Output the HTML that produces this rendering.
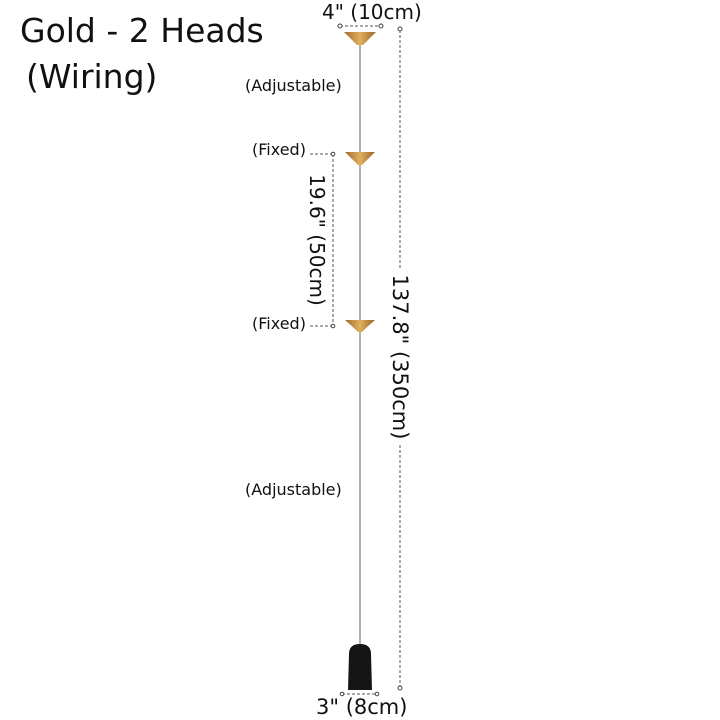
<!DOCTYPE html>
<html><head><style>
body{margin:0;width:720px;height:720px;background:#fff;overflow:hidden;position:relative;font-family:"DejaVu Sans","Liberation Sans",sans-serif;color:#111}
.t{position:absolute;white-space:nowrap}
</style></head><body>
<div class="t" style="left:20px;top:11px;font-size:33px">Gold - 2 Heads</div>
<div class="t" style="left:26px;top:57px;font-size:33px">(Wiring)</div>
<div class="t" style="left:322px;top:0px;font-size:20px">4" (10cm)</div>
<div class="t" style="left:245px;top:76px;font-size:16px">(Adjustable)</div>
<div class="t" style="left:252px;top:140px;font-size:16px">(Fixed)</div>
<div class="t" style="left:252px;top:314px;font-size:16px">(Fixed)</div>
<div class="t" style="left:245px;top:480px;font-size:16px">(Adjustable)</div>
<div class="t" style="left:316px;top:695px;font-size:21px">3" (8cm)</div>
<div class="t" style="left:317px;top:240px;font-size:20px;transform:translate(-50%,-50%) rotate(90deg)">19.6" (50cm)</div>
<div class="t" style="left:400px;top:357px;font-size:21px;background:#fff;padding:0 6px;transform:translate(-50%,-50%) rotate(90deg)">137.8" (350cm)</div>
<svg width="720" height="720" style="position:absolute;left:0;top:0">
<defs><linearGradient id="g" x1="0" x2="1"><stop offset="0" stop-color="#a06a2a"/><stop offset=".5" stop-color="#e0b060"/><stop offset="1" stop-color="#9a6424"/></linearGradient></defs>
<line x1="360" y1="40" x2="360" y2="650" stroke="#8a7a6a" stroke-width="1.2"/>
<g stroke="#555" stroke-width="1" stroke-dasharray="3,2" fill="none">
<line x1="340" y1="26" x2="381" y2="26"/>
<line x1="400" y1="30" x2="400" y2="270"/>
<line x1="400" y1="445" x2="400" y2="688"/>
<line x1="310" y1="154" x2="333" y2="154"/>
<line x1="333" y1="154" x2="333" y2="326"/>
<line x1="310" y1="326" x2="333" y2="326"/>
<line x1="342" y1="694" x2="377" y2="694"/>
</g>
<g fill="#fff" stroke="#444" stroke-width="1">
<circle cx="340" cy="26" r="2"/><circle cx="381" cy="26" r="2"/><circle cx="400" cy="29" r="2"/><circle cx="400" cy="688" r="2"/>
<circle cx="333" cy="154" r="1.8"/><circle cx="333" cy="326" r="1.8"/><circle cx="342" cy="694" r="1.8"/><circle cx="377" cy="694" r="1.8"/>
</g>
<path d="M344 32 L376 32 Q368 40 363 45 L357 45 Q352 40 344 32 Z" fill="url(#g)"/>
<path d="M345 152 L375 152 Q367 160 362 165 L358 165 Q353 160 345 152 Z" fill="url(#g)"/>
<path d="M345 320 L375 320 Q367 327 362 332 L358 332 Q353 327 345 320 Z" fill="url(#g)"/>
<path d="M349 654 Q349 644 360 644 Q371 644 371 654 L372 690 L348 690 Z" fill="#151515"/>
</svg>
</body></html>
